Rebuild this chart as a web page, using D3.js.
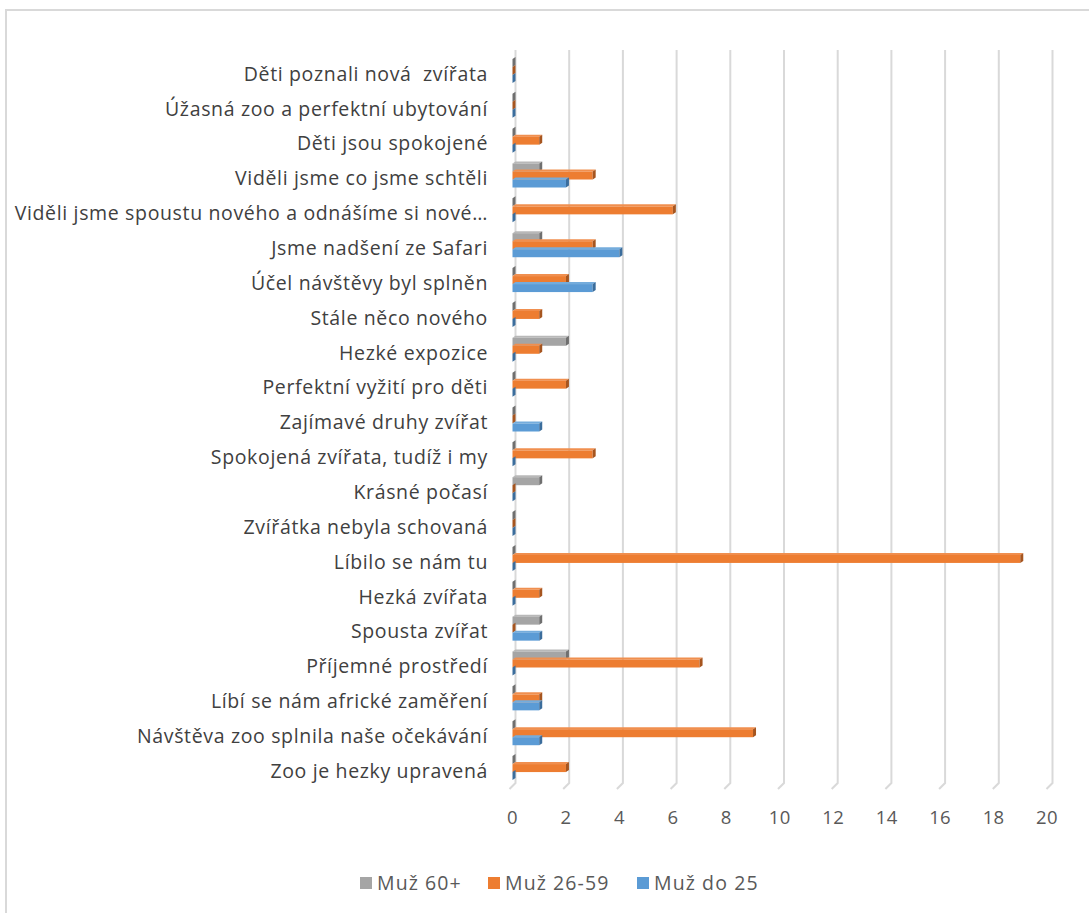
<!DOCTYPE html>
<meta charset="utf-8">
<style>
body { margin: 0; background: #fff; }
svg { display: block; font-family: "Open Sans", sans-serif; }
.cat text { fill: #404040; font-size: 19.5px; letter-spacing: 0.65px; }
.tick-label { fill: #595959; font-size: 18.5px; letter-spacing: 0.3px; }
.legend text { fill: #595959; font-size: 19.5px; letter-spacing: 1.1px; }
</style>
<svg width="1089" height="913"></svg>
<script src="https://d3js.org/d3.v7.min.js"></script>
<script>

// answers, top to bottom as in the chart
var categories = [
  "Děti poznali nová  zvířata",
  "Úžasná zoo a perfektní ubytování",
  "Děti jsou spokojené",
  "Viděli jsme co jsme schtěli",
  "Viděli jsme spoustu nového a odnášíme si nové…",
  "Jsme nadšení ze Safari",
  "Účel návštěvy byl splněn",
  "Stále něco nového",
  "Hezké expozice",
  "Perfektní vyžití pro děti",
  "Zajímavé druhy zvířat",
  "Spokojená zvířata, tudíž i my",
  "Krásné počasí",
  "Zvířátka nebyla schovaná",
  "Líbilo se nám tu",
  "Hezká zvířata",
  "Spousta zvířat",
  "Příjemné prostředí",
  "Líbí se nám africké zaměření",
  "Návštěva zoo splnila naše očekávání",
  "Zoo je hezky upravená"
];

var seriesNames = ["Muž 60+", "Muž 26-59", "Muž do 25"];

var muz60 =   [0, 0, 0, 1, 0, 1, 0, 0, 2, 0, 0, 0, 1, 0, 0, 0, 1, 2, 0, 0, 0];
var muz2659 = [0, 0, 1, 3, 6, 3, 2, 1, 1, 2, 0, 3, 0, 0, 19, 1, 0, 7, 1, 9, 2];
var muzDo25 = [0, 0, 0, 2, 0, 4, 3, 0, 0, 0, 1, 0, 0, 0, 0, 0, 1, 0, 1, 1, 0];

var ticks = [0, 2, 4, 6, 8, 10, 12, 14, 16, 18, 20];

var colors = ["#a5a5a5", "#ed7d31", "#5b9bd5"];
var topCol = ["#b8b8b8", "#f08f4f", "#74acdc"];
var sideCol = ["#6f6f6f", "#a6551f", "#3b6d9c"];

var values = [muz60, muz2659, muzDo25];

var svg = d3.select("svg");

// chart frame (right and bottom edges run off the picture)
svg.append("rect")
    .attr("x", 6).attr("y", 10)
    .attr("width", 1200).attr("height", 1000)
    .attr("fill", "none")
    .attr("stroke", "#d9d9d9")
    .attr("stroke-width", 2);

var x = d3.scaleLinear().domain([0, 20]).range([512.5, 1047]);
var xBack = d3.scaleLinear().domain([0, 20]).range([515.5, 1052.5]);
var y = d3.scaleBand().domain(categories).range([56.5, 788.5]);
var inner = d3.scaleBand().domain(seriesNames).range([-15, 9]);

var depthX = 3, depthY = 2;

// back wall gridlines with the small floor corner
svg.append("g").selectAll("path")
  .data(ticks)
  .enter().append("path")
    .attr("d", function(d) {
      return "M" + xBack(d) + ",50V783L" + (xBack(d) - 6) + ",789";
    })
    .attr("fill", "none")
    .attr("stroke", "#d9d9d9")
    .attr("stroke-width", 2);

// x tick labels
svg.append("g").selectAll("text")
  .data(ticks)
  .enter().append("text")
    .attr("class", "tick-label")
    .attr("x", function(d) { return x(d); })
    .attr("y", 824)
    .attr("text-anchor", "middle")
    .text(function(d) { return d; });

// category labels
svg.append("g").attr("class", "cat").selectAll("text")
  .data(categories)
  .enter().append("text")
    .attr("x", 488)
    .attr("y", function(d) { return y(d) + y.bandwidth() / 2; })
    .attr("dy", "0.35em")
    .attr("text-anchor", "end")
    .style("white-space", "pre")
    .attr("xml:space", "preserve")
    .text(function(d) { return d; });

// bars, drawn as flat 3D boxes
var rows = svg.append("g").selectAll("g")
  .data(categories)
  .enter().append("g")
    .attr("transform", function(d) {
      return "translate(0," + (y(d) + y.bandwidth() / 2) + ")";
    });

seriesNames.forEach(function(s, si) {
  rows.each(function(cat, ci) {
    var v = values[si][ci];
    var g = d3.select(this);
    var x0 = x(0), x1 = x(v);
    var y0 = inner(s), y1 = y0 + inner.bandwidth();
    if (v > 0) {
      g.append("polygon")
        .attr("points", [[x0, y0], [x0 + depthX, y0 - depthY], [x1 + depthX, y0 - depthY], [x1, y0]].join(" "))
        .attr("fill", topCol[si]);
      g.append("rect")
        .attr("x", x0).attr("y", y0)
        .attr("width", x1 - x0).attr("height", y1 - y0)
        .attr("fill", colors[si]);
    }
    g.append("polygon")
      .attr("points", [[x1, y0], [x1 + depthX, y0 - depthY], [x1 + depthX, y1 - depthY], [x1, y1]].join(" "))
      .attr("fill", sideCol[si]);
  });
});

// legend
var legendX = [360, 488, 637];
var legend = svg.append("g").attr("class", "legend").selectAll("g")
  .data(seriesNames)
  .enter().append("g")
    .attr("transform", function(d, i) { return "translate(" + legendX[i] + ",877)"; });

legend.append("rect")
    .attr("width", 12).attr("height", 12)
    .attr("fill", function(d, i) { return colors[i]; });

legend.append("text")
    .attr("x", 17)
    .attr("y", 6)
    .attr("dy", "0.35em")
    .text(function(d) { return d; });

</script>
